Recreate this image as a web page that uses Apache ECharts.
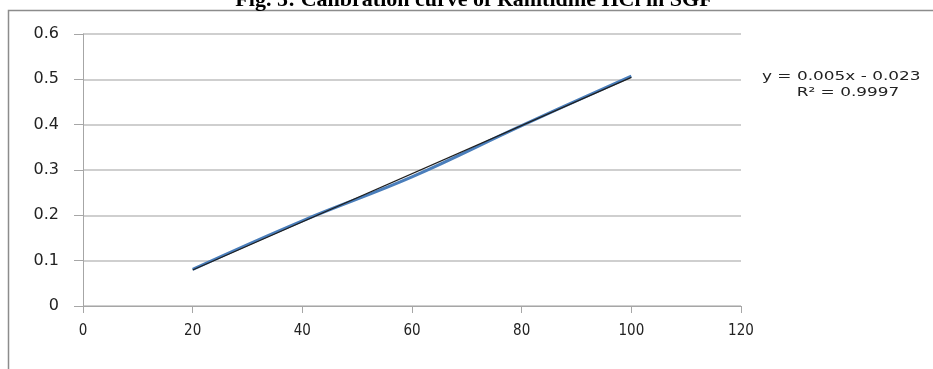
<!DOCTYPE html>
<html>
<head>
<meta charset="utf-8">
<script src="https://cdn.jsdelivr.net/npm/echarts@6/dist/echarts.min.js"></script>
<style>html,body{margin:0;padding:0;background:#fff;}#c{width:933px;height:369px;}</style>
</head>
<body>
<div id="c"></div>
<script>
const titleText = 'Fig. 5: Calibration curve of Ranitidine HCl in SGF';
const concentrations = [20, 40, 60, 80, 100];
const absorbance = [0.081, 0.188, 0.285, 0.398, 0.507];
const equationText = 'y = 0.005x - 0.023';
const r2Text = 'R\u00B2 = 0.9997';
const yTicks = [0, 0.1, 0.2, 0.3, 0.4, 0.5, 0.6];
const xTicks = [0, 20, 40, 60, 80, 100, 120];

// linear least-squares trendline computed from the data
const n = concentrations.length;
const mx = concentrations.reduce((a, b) => a + b, 0) / n;
const my = absorbance.reduce((a, b) => a + b, 0) / n;
let sxy = 0, sxx = 0;
for (let i = 0; i < n; i++) { sxy += (concentrations[i] - mx) * (absorbance[i] - my); sxx += (concentrations[i] - mx) ** 2; }
const slope = sxy / sxx, intercept = my - slope * mx;
const x0 = concentrations[0], x1 = concentrations[n - 1];
const trend = [[x0, slope * x0 + intercept], [x1, slope * x1 + intercept]];

const chart = echarts.init(document.getElementById('c'));
chart.setOption({
  animation: false,
  grid: { left: 83, right: 192, top: 34, bottom: 63 },
  xAxis: {
    type: 'value', min: xTicks[0], max: xTicks[xTicks.length - 1], interval: 20,
    axisLine: { show: true, lineStyle: { color: '#a6a6a6', width: 1 } },
    axisTick: { show: true, inside: false, length: 7, lineStyle: { color: '#a6a6a6' } },
    splitLine: { show: false },
    axisLabel: { margin: 18, color: '#222', fontSize: 15, fontFamily: 'Liberation Sans Narrow, DejaVu Sans Condensed, sans-serif' }
  },
  yAxis: {
    type: 'value', min: yTicks[0], max: yTicks[yTicks.length - 1], interval: 0.1,
    axisLine: { show: true, lineStyle: { color: '#a6a6a6', width: 1 } },
    axisTick: { show: true, inside: false, length: 9, lineStyle: { color: '#a6a6a6' } },
    splitLine: { show: true, lineStyle: { color: '#bfbfbf', width: 1.5 } },
    axisLabel: { margin: 24, color: '#222', fontSize: 16, fontFamily: 'DejaVu Sans, Verdana, sans-serif',
      formatter: v => (Math.round(v * 10) / 10).toString() }
  },
  series: [
    { type: 'line', data: concentrations.map((x, i) => [x, absorbance[i]]), smooth: 0.4, symbol: 'none',
      lineStyle: { color: '#4a7ebb', width: 3 }, z: 2 },
    { type: 'line', data: trend, symbol: 'none', lineStyle: { color: '#1f1f1f', width: 1.3 }, z: 3 }
  ],
  graphic: [
    { type: 'rect', shape: { x: 8.5, y: 10.5, width: 1000, height: 500 }, style: { fill: 'none', stroke: '#8c8c8c', lineWidth: 1.5 }, z: -10 },
    { type: 'text', x: 474, y: 0, style: { text: titleText, font: 'bold 22px "Liberation Serif", "Times New Roman", serif', fill: '#000', align: 'center', verticalAlign: 'middle' } },
    { type: 'text', x: 762, y: 77, scaleX: 1.3, style: { text: equationText, font: '13px "DejaVu Sans", sans-serif', fill: '#222', align: 'left', verticalAlign: 'middle' } },
    { type: 'text', x: 848, y: 93, scaleX: 1.3, style: { text: r2Text, font: '13px "DejaVu Sans", sans-serif', fill: '#222', align: 'center', verticalAlign: 'middle' } }
  ]
});
</script>
</body>
</html>
